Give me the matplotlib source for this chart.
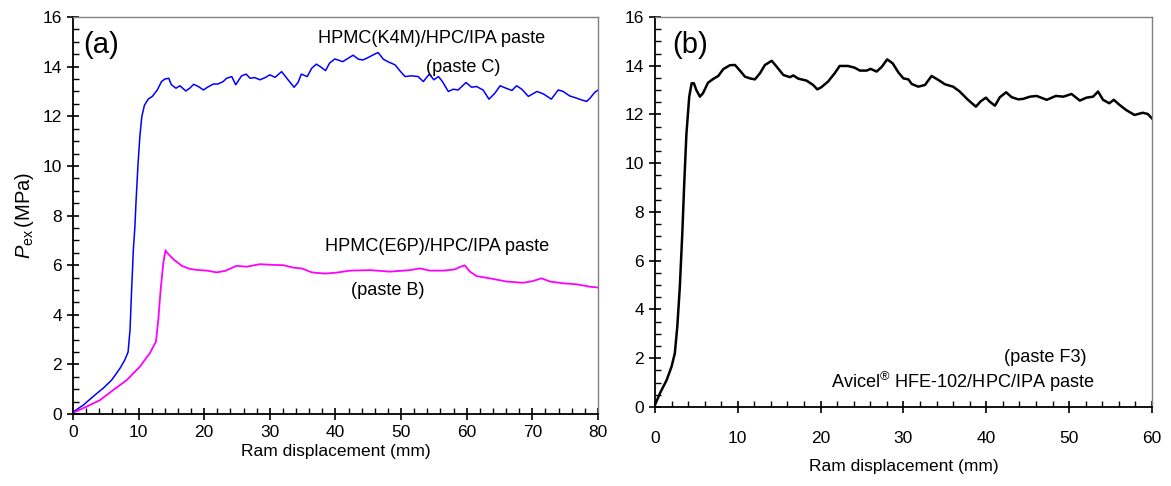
import numpy as np
import matplotlib
matplotlib.use('Agg')
import matplotlib.pyplot as plt
from matplotlib.ticker import MultipleLocator

plt.rcParams['font.family'] = ['Liberation Sans', 'DejaVu Sans']
plt.rcParams['mathtext.fontset'] = 'custom'
plt.rcParams['mathtext.rm'] = 'Liberation Sans'
plt.rcParams['mathtext.it'] = 'Liberation Sans:italic'

# (a) paste C : HPMC(K4M)/HPC/IPA
c_x = [0, 1.57, 3.35, 4.6, 5.9, 7.16, 7.9, 8.4, 8.7, 8.94, 9.2, 9.45, 9.6, 9.9, 10.2, 10.5,
       10.9, 11.5, 12.1, 12.85, 13.5, 14.0, 14.6, 15.0, 15.7, 16.3, 17.2, 17.8, 18.4, 19.1,
       19.9, 20.5, 21.4, 22.1, 22.9, 23.4, 24.2, 24.8, 25.7, 26.4, 27.0, 27.7, 28.5, 29.3,
       30.0, 30.8, 31.8, 32.6, 33.7, 34.3, 34.8, 35.7, 36.4, 37.1, 37.7, 38.5, 39.1, 39.9,
       40.6, 41.1, 41.95, 42.7, 43.5, 44.2, 45.0, 45.8, 46.5, 47.3, 48.0, 49.1, 49.8, 50.6,
       51.6, 52.6, 53.4, 54.3, 55.0, 55.7, 56.3, 57.2, 57.95, 58.7, 59.9, 60.75, 61.5, 62.5,
       63.4, 64.3, 65.1, 66.0, 66.9, 67.6, 68.4, 69.4, 70.7, 71.7, 72.9, 73.95, 74.7, 75.7,
       76.75, 77.5, 78.3, 78.8, 79.5, 80.0]
c_y = [0.08, 0.36, 0.77, 1.04, 1.37, 1.84, 2.18, 2.5, 3.4, 5.0, 6.6, 7.6, 8.5, 10.0, 11.2, 12.0,
       12.45, 12.7, 12.8, 13.06, 13.4, 13.5, 13.53, 13.27, 13.13, 13.23, 13.02, 13.13, 13.29, 13.2,
       13.06, 13.17, 13.3, 13.3, 13.4, 13.53, 13.6, 13.27, 13.63, 13.7, 13.53, 13.56, 13.47, 13.56,
       13.67, 13.57, 13.8, 13.53, 13.17, 13.36, 13.7, 13.6, 13.94, 14.1, 14.0, 13.84, 14.14, 14.31,
       14.25, 14.2, 14.34, 14.46, 14.3, 14.27, 14.37, 14.48, 14.57, 14.3, 14.2, 14.07, 13.84, 13.6,
       13.63, 13.6, 13.4, 13.7, 13.47, 13.6, 13.4, 13.0, 13.09, 13.06, 13.36, 13.17, 13.2, 13.06,
       12.69, 12.93, 13.23, 13.13, 13.04, 13.23, 13.09, 12.8, 13.0, 12.9, 12.69, 13.06, 13.0, 12.82,
       12.73, 12.66, 12.6, 12.73, 12.96, 13.05]

# (a) paste B : HPMC(E6P)/HPC/IPA
b_x = [0, 2.08, 4.1, 6.15, 8.2, 10.2, 11.7, 12.65, 13.0, 13.36, 13.76, 14.1, 14.35, 15.3, 16.6,
       17.8, 18.85, 20.4, 21.9, 23.2, 24.9, 26.5, 28.5, 30.5, 32.05, 33.6, 34.85, 36.4, 38.4,
       40.2, 42.2, 45.3, 48.3, 51.35, 52.9, 54.4, 56.4, 58.2, 59.1, 59.7, 60.5, 61.5, 63.5,
       66.1, 68.6, 70.1, 71.4, 72.7, 74.7, 76.75, 78.8, 80.0]
b_y = [0.05, 0.3, 0.56, 0.97, 1.37, 1.91, 2.45, 2.92, 3.79, 5.0, 6.07, 6.6, 6.5, 6.24, 5.97,
       5.85, 5.81, 5.78, 5.71, 5.77, 5.97, 5.94, 6.04, 6.01, 6.0, 5.9, 5.87, 5.71, 5.66,
       5.7, 5.78, 5.8, 5.74, 5.8, 5.87, 5.78, 5.78, 5.83, 5.94, 5.99, 5.74, 5.56, 5.47,
       5.34, 5.29, 5.36, 5.47, 5.34, 5.27, 5.23, 5.13, 5.1]

# (b) paste F3 : Avicel HFE-102/HPC/IPA
f_x = [0, 0.6, 1.41, 2.0, 2.4, 2.7, 3.0, 3.3, 3.54, 3.8, 4.0, 4.14, 4.43, 4.7, 5.0, 5.43, 5.8,
       6.4, 7.0, 7.65, 8.25, 9.05, 9.66, 10.26, 10.87, 11.47, 12.07, 12.68, 13.28, 14.1, 14.7,
       15.5, 16.3, 16.7, 17.3, 18.3, 19.1, 19.6, 20.1, 20.9, 21.7, 22.3, 23.3, 24.1, 24.75,
       25.56, 26.04, 26.77, 27.4, 28.04, 28.7, 29.4, 30.0, 30.6, 31.0, 31.8, 32.6, 33.4, 34.2,
       35.0, 36.0, 36.8, 37.8, 38.75, 39.3, 39.96, 40.4, 41.05, 41.65, 42.4, 43.06, 43.86, 44.46,
       45.27, 46.08, 47.3, 48.4, 49.3, 50.3, 51.3, 52.1, 52.9, 53.5, 54.1, 54.85, 55.4, 56.1,
       56.9, 57.9, 58.9, 59.5, 60.0]
f_y = [0.08, 0.56, 1.1, 1.65, 2.2, 3.3, 4.9, 7.1, 9.2, 11.2, 12.1, 12.73, 13.28, 13.28, 13.0, 12.73, 12.87,
       13.3, 13.45, 13.58, 13.86, 14.02, 14.03, 13.8, 13.55, 13.48, 13.44, 13.69, 14.03, 14.2, 13.96,
       13.62, 13.53, 13.6, 13.47, 13.39, 13.21, 13.03, 13.12, 13.35, 13.69, 13.99, 13.99, 13.92, 13.8,
       13.8, 13.87, 13.76, 13.96, 14.26, 14.1, 13.72, 13.48, 13.44, 13.25, 13.14, 13.21, 13.58, 13.42,
       13.24, 13.14, 12.94, 12.6, 12.32, 12.53, 12.69, 12.53, 12.36, 12.71, 12.91, 12.71, 12.62, 12.64,
       12.73, 12.76, 12.6, 12.76, 12.73, 12.84, 12.57, 12.69, 12.73, 12.94, 12.6, 12.46, 12.6, 12.39,
       12.18, 11.98, 12.07, 12.02, 11.84]

fig = plt.figure(figsize=(11.71, 4.86), dpi=100)
ax1 = fig.add_axes([0.0623, 0.148, 0.4483, 0.817])
ax2 = fig.add_axes([0.5593, 0.1626, 0.4244, 0.8025])


def style(ax, xmax, xpad=4):
    ax.set_xlim(0, xmax)
    ax.set_ylim(0, 16)
    ax.xaxis.set_major_locator(MultipleLocator(10))
    ax.xaxis.set_minor_locator(MultipleLocator(2))
    ax.yaxis.set_major_locator(MultipleLocator(2))
    ax.yaxis.set_minor_locator(MultipleLocator(0.5))
    ax.tick_params(which='major', direction='inout', length=8, width=1.2, labelsize=12.5, pad=4)
    ax.tick_params(axis='x', which='major', pad=xpad)
    ax.tick_params(which='minor', direction='in', length=4, width=1)
    ax.tick_params(top=False, right=False, which='both')
    for s in ['left', 'bottom']:
        ax.spines[s].set_linewidth(1.3)
        ax.spines[s].set_color('black')
    for s in ['top', 'right']:
        ax.spines[s].set_linewidth(1)
        ax.spines[s].set_color('#808080')
    ax.set_xlabel('Ram displacement (mm)', fontsize=12.5, labelpad=3)


style(ax1, 80)
ax1.plot(c_x, c_y, color='#0000ff', lw=1.1)
ax1.plot(b_x, b_y, color='#ff00ff', lw=1.3)
ax1.set_ylabel(r'$P_{\rm ex}\,$(MPa)', fontsize=14.5, labelpad=5)
ax1.text(0.02, 0.965, '(a)', transform=ax1.transAxes, fontsize=21, va='top', ha='left')
ax1.text(0.684, 0.945, 'HPMC(K4M)/HPC/IPA paste', transform=ax1.transAxes, fontsize=13.1,
         ha='center', va='center')
ax1.text(0.743, 0.872, '(paste C)', transform=ax1.transAxes, fontsize=13.1,
         ha='center', va='center')
ax1.text(0.693, 0.423, 'HPMC(E6P)/HPC/IPA paste', transform=ax1.transAxes, fontsize=13.1,
         ha='center', va='center')
ax1.text(0.60, 0.31, '(paste B)', transform=ax1.transAxes, fontsize=13.1,
         ha='center', va='center')

style(ax2, 60, xpad=13)
ax2.plot(f_x, f_y, color='black', lw=1.8)
ax2.xaxis.labelpad = 10
ax2.text(0.035, 0.965, '(b)', transform=ax2.transAxes, fontsize=21, va='top', ha='left')
ax2.text(0.785, 0.128, '(paste F3)', transform=ax2.transAxes, fontsize=13.1,
         ha='center', va='center')
ax2.text(0.62, 0.064, 'Avicel$^{\\circledR}$ HFE-102/HPC/IPA paste', transform=ax2.transAxes,
         fontsize=13.1, ha='center', va='center')

fig.savefig('out.png', dpi=100)
